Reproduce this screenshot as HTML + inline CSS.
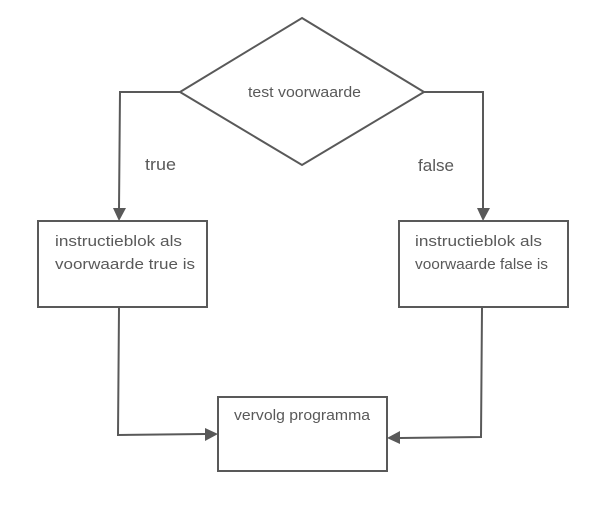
<!DOCTYPE html>
<html><head><meta charset="utf-8"><style>
html,body{margin:0;padding:0;background:#fff;width:610px;height:505px;overflow:hidden}
svg{display:block}
text{font-family:"Liberation Sans",sans-serif;fill:#595959}
</style></head><body>
<svg width="610" height="505" viewBox="0 0 610 505">
<g fill="none" stroke="#595959" stroke-width="2">
<polygon points="302,18 424,92 302,165 180,92" fill="#fff"/>
<rect x="38" y="221" width="169" height="86" fill="#fff"/>
<rect x="399" y="221" width="169" height="86" fill="#fff"/>
<rect x="218" y="397" width="169" height="74" fill="#fff"/>
<polyline points="180,92 120,92 119,209"/>
<polyline points="424,92 483,92 483,209"/>
<polyline points="119,308 118,435 205,434"/>
<polyline points="482,308 481,437 400,438"/>
</g>
<g fill="#595959">
<polygon points="113,208 126,208 119,221"/>
<polygon points="477,208 490,208 483,221"/>
<polygon points="205,428 205,441 218,434"/>
<polygon points="400,431 400,444 387,438"/>
</g>
<text x="248" y="97" font-size="15" textLength="113" lengthAdjust="spacingAndGlyphs">test voorwaarde</text>
<text x="145" y="170" font-size="17" textLength="31" lengthAdjust="spacingAndGlyphs">true</text>
<text x="418" y="171" font-size="17" textLength="36" lengthAdjust="spacingAndGlyphs">false</text>
<text x="55" y="246" font-size="15" textLength="127" lengthAdjust="spacingAndGlyphs">instructieblok als</text>
<text x="55" y="269" font-size="15" textLength="140" lengthAdjust="spacingAndGlyphs">voorwaarde true is</text>
<text x="415" y="246" font-size="15" textLength="127" lengthAdjust="spacingAndGlyphs">instructieblok als</text>
<text x="415" y="269" font-size="15" textLength="133" lengthAdjust="spacingAndGlyphs">voorwaarde false is</text>
<text x="234" y="420" font-size="15" textLength="136" lengthAdjust="spacingAndGlyphs">vervolg programma</text>
</svg>
</body></html>
